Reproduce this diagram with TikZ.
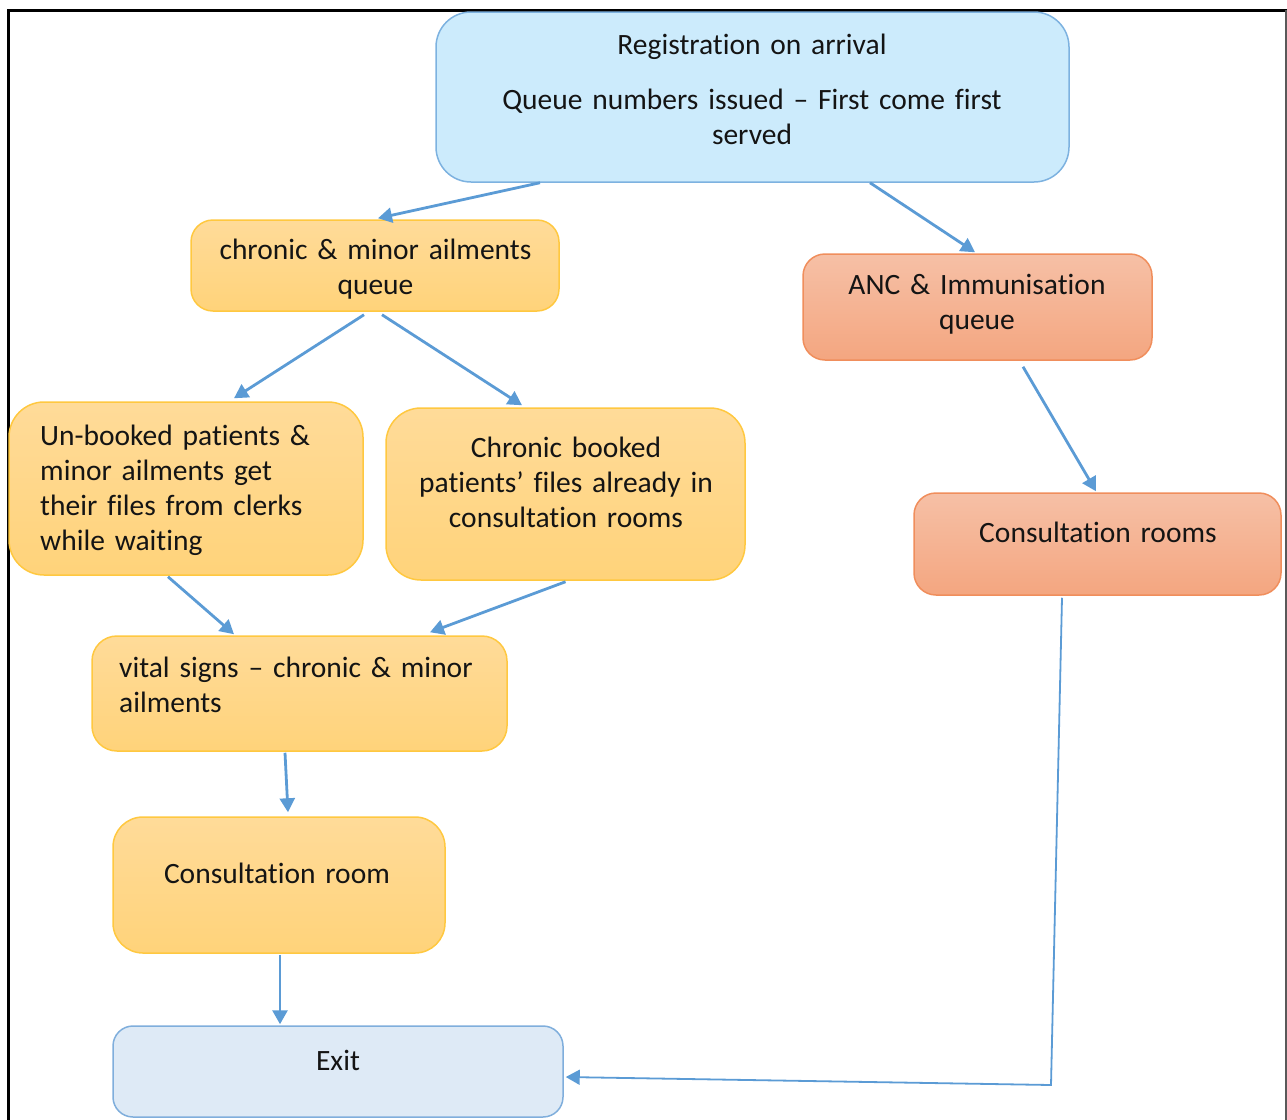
\documentclass[tikz,border=0pt]{standalone}
\usepackage{fontspec}
\setmainfont{Carlito}[Ligatures={NoCommon}]
\usetikzlibrary{arrows.meta,calc}
\definecolor{arrowblue}{RGB}{91,155,213}
\definecolor{regfill}{RGB}{204,235,252}
\definecolor{regdraw}{RGB}{125,178,224}
\definecolor{yeltop}{RGB}{255,219,153}
\definecolor{yelbot}{RGB}{255,211,122}
\definecolor{yeldraw}{RGB}{255,200,64}
\definecolor{orgtop}{RGB}{246,192,166}
\definecolor{orgbot}{RGB}{244,166,128}
\definecolor{orgdraw}{RGB}{240,142,92}
\definecolor{exitfill}{RGB}{222,234,246}
\definecolor{exitdraw}{RGB}{127,174,220}
\definecolor{txtcol}{RGB}{20,20,20}
\begin{document}
\begin{tikzpicture}[x=1pt,y=-1pt,
  box/.style={inner sep=0pt, line width=1.5pt},
  regbox/.style={box, draw=regdraw, fill=regfill},
  yelbox/.style={box, draw=yeldraw, top color=yeltop, bottom color=yelbot},
  orgbox/.style={box, draw=orgdraw, top color=orgtop, bottom color=orgbot},
  exitbox/.style={box, draw=exitdraw, fill=exitfill},
  ctxt/.style={inner sep=0pt, anchor=base, text width=640pt, align=center, text=txtcol,
     font=\fontsize{29.5}{35}\selectfont},
  ltxt/.style={inner sep=0pt, anchor=base west, text width=400pt, align=left, text=txtcol,
     font=\fontsize{29.5}{35}\selectfont},
  arr/.style={draw=arrowblue, line width=2.8pt, -{Triangle[length=14pt,width=15pt]}},
  thinarr/.style={draw=arrowblue, line width=1.8pt, line join=miter, -{Triangle[length=14pt,width=15pt]}}
]
\useasboundingbox (0,0) rectangle (1287,1119);
% frame
\draw[line width=3pt, black] (8,1121) -- (8,10) -- (1287,10);
\draw[line width=1.5pt, black!65] (1286,10) -- (1286,1121);

% boxes
\node[regbox, rounded corners=35pt, minimum width=633pt, minimum height=170pt] (reg) at (752.5,97) {};
\node[yelbox, rounded corners=22pt, minimum width=368pt, minimum height=91pt] (chq) at (375,265.5) {};
\node[orgbox, rounded corners=22pt, minimum width=349pt, minimum height=106pt] (anc) at (977.5,307) {};
\node[yelbox, rounded corners=35pt, minimum width=354pt, minimum height=173pt] (unb) at (186,488.5) {};
\node[yelbox, rounded corners=35pt, minimum width=359pt, minimum height=172pt] (cbk) at (565.5,494) {};
\node[orgbox, rounded corners=22pt, minimum width=367pt, minimum height=102pt] (crs) at (1097.5,544) {};
\node[yelbox, rounded corners=25pt, minimum width=415pt, minimum height=115pt] (vit) at (299.5,693.5) {};
\node[yelbox, rounded corners=30pt, minimum width=332pt, minimum height=136pt] (crm) at (279,885) {};
\node[exitbox, rounded corners=20pt, minimum width=450pt, minimum height=91pt] (ext) at (338,1071.5) {};

% texts
\node[ctxt] (regt) at (752,54) {Registration on arrival\\[20pt]Queue numbers issued – First come first\\served};
\node[ctxt] (chqt) at (375.5,259) {chronic \& minor ailments\\queue};
\node[ctxt] (anct) at (977,294) {ANC \& Immunisation\\queue};
\node[ltxt] (unbt) at (40,445) {Un-booked patients \&\\minor ailments get\\their files from clerks\\while waiting};
\node[ctxt] (cbkt) at (566,457) {Chronic booked\\patients’ files already in\\consultation rooms};
\node[ctxt] (crst) at (1098,542) {Consultation rooms};
\node[ltxt] (vitt) at (119,677) {vital signs – chronic \& minor\\ailments};
\node[ctxt] (crmt) at (277,883) {Consultation room};
\node[ctxt] (extt) at (338,1070) {Exit};

% connectors
\draw[arr] ([xshift=-212.5pt]reg.south) -- ([xshift=3pt,yshift=1pt]chq.north);
\draw[arr] ([xshift=117.5pt]reg.south) -- ([xshift=-2.5pt,yshift=1pt]anc.north);
\draw[arr] ([xshift=-11pt,yshift=-3pt]chq.south) -- ([xshift=48pt,yshift=3pt]unb.north);
\draw[arr] ([xshift=7pt,yshift=-3pt]chq.south) -- ([xshift=-43.5pt,yshift=2pt]cbk.north);
\draw[arr] ([xshift=45.5pt,yshift=-6pt]anc.south) -- ([xshift=-1.5pt,yshift=1pt]crs.north);
\draw[arr] ([xshift=-18pt,yshift=-1pt]unb.south) -- ([xshift=-65.5pt,yshift=1pt]vit.north);
\draw[arr] ([yshift=-1pt]cbk.south) -- ([xshift=130.5pt,yshift=3pt]vit.north);
\draw[arr] ([xshift=-14.5pt,yshift=-1pt]vit.south) -- ([xshift=9pt,yshift=4pt]crm.north);
\draw[arr] ([xshift=1pt,yshift=-1pt]crm.south) -- ([xshift=-58pt,yshift=1pt]ext.north);
\coordinate (bend) at (1051,1085);
\draw[thinarr] ([xshift=-35.5pt,yshift=-2pt]crs.south) -- (bend) -- ([xshift=2pt,yshift=-5.5pt]ext.east);
\end{tikzpicture}
\end{document}
